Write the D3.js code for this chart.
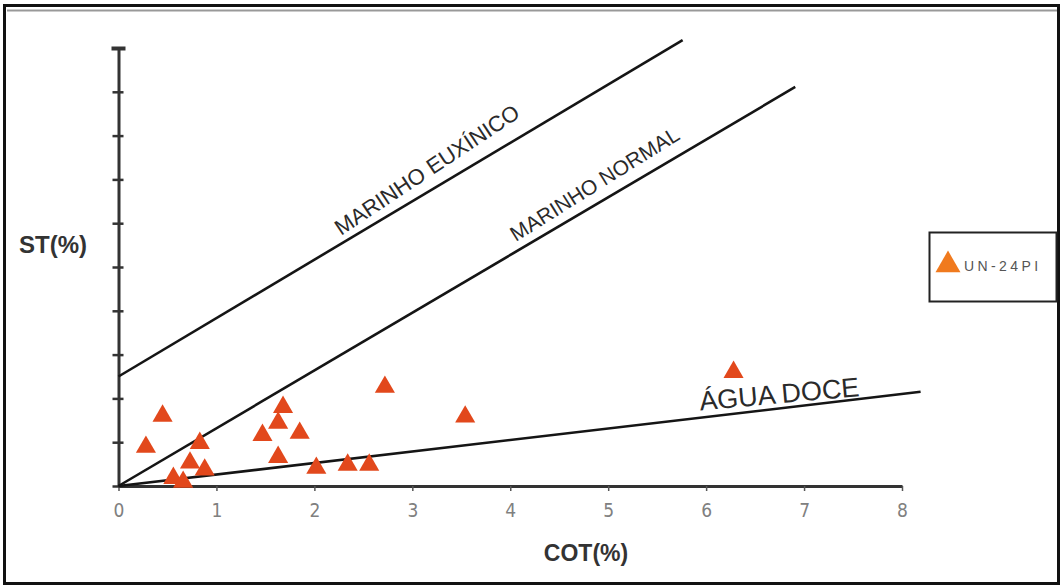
<!DOCTYPE html>
<html>
<head>
<meta charset="utf-8">
<script src="https://cdn.jsdelivr.net/npm/d3@7"></script>
<style>
  body { margin: 0; background: #fff; }
  svg { display: block; font-family: "Liberation Sans", Arial, sans-serif; }
</style>
</head>
<body>
<div id="chart"></div>
<script>
// sample points, COT(%) vs ST(%)
var cot = [0.45, 0.28, 0.83, 0.73, 0.88, 0.56, 0.66, 1.68, 1.63, 1.47, 1.85, 1.63, 2.02, 2.34, 2.56, 2.72, 3.54, 6.28];
var st  = [1.60, 0.89, 0.98, 0.53, 0.37, 0.18, 0.09, 1.80, 1.44, 1.16, 1.21, 0.66, 0.41, 0.48, 0.48, 2.26, 1.58, 2.60];

// environment boundary lines (start / end in data units)
var lineNames = ["MARINHO EUXÍNICO", "MARINHO NORMAL", "ÁGUA DOCE"];
var lineX0 = [0, 0, 0];
var lineY0 = [2.5, 0, 0];
var lineX1 = [5.76, 6.91, 8.19];
var lineY1 = [10.18, 9.11, 2.15];
var labelAt = [3.26, 4.96, 6.76];   // x position of the label along each line

var xTicks = [0, 1, 2, 3, 4, 5, 6, 7, 8];
var yTicks = [0, 1, 2, 3, 4, 5, 6, 7, 8, 9, 10];
var seriesName = "UN-24PI";

var W = 1063, H = 587;

var svg = d3.select("#chart").append("svg")
    .attr("width", W)
    .attr("height", H);

// picture frame
svg.append("rect")
    .attr("x", 4.5).attr("y", 5.5)
    .attr("width", 1054).attr("height", 578)
    .attr("fill", "none")
    .attr("stroke", "#111")
    .attr("stroke-width", 3);
svg.append("line")
    .attr("x1", 7).attr("x2", 1057)
    .attr("y1", 10.5).attr("y2", 10.5)
    .attr("stroke", "#999")
    .attr("stroke-width", 2);

var x = d3.scaleLinear().domain([0, 8]).range([118.5, 902]);
var y = d3.scaleLinear().domain([0, 10]).range([486, 48]);

// x axis
var xAxis = d3.axisBottom(x)
    .tickValues(xTicks)
    .tickSizeInner(5)
    .tickSizeOuter(0)
    .tickPadding(13);

var gx = svg.append("g")
    .attr("transform", "translate(0," + y(0) + ")")
    .call(xAxis);
gx.select(".domain").attr("stroke", "#333").attr("stroke-width", 3);
gx.selectAll(".tick line").attr("stroke", "#555").attr("stroke-width", 1.5);
gx.selectAll(".tick text")
    .attr("fill", "#808080")
    .style("font-family", "'Liberation Sans Narrow', 'DejaVu Sans Condensed', sans-serif")
    .style("font-size", "19px");

// y axis, no labels
var yAxis = d3.axisLeft(y)
    .tickValues(yTicks)
    .tickFormat("")
    .tickSizeOuter(0);

var gy = svg.append("g")
    .attr("transform", "translate(" + x(0) + ",0)")
    .call(yAxis);
gy.select(".domain").attr("stroke", "#333").attr("stroke-width", 3);
gy.selectAll(".tick line")
    .attr("x1", -6).attr("x2", 5)
    .attr("stroke", "#333")
    .attr("stroke-width", 2.5);
gy.selectAll(".tick").filter(function(d) { return d === 10; }).select("line")
    .attr("x1", -7).attr("x2", 7).attr("stroke-width", 4);

// boundary lines
var envs = lineNames.map(function(n, i) {
    return { name: n, x0: lineX0[i], y0: lineY0[i], x1: lineX1[i], y1: lineY1[i], lx: labelAt[i] };
});

svg.selectAll(".env")
    .data(envs)
    .enter().append("line")
    .attr("class", "env")
    .attr("x1", function(d) { return x(d.x0); })
    .attr("y1", function(d) { return y(d.y0); })
    .attr("x2", function(d) { return x(d.x1); })
    .attr("y2", function(d) { return y(d.y1); })
    .attr("stroke", "#151515")
    .attr("stroke-width", 2.6);

var labelSize = [22, 21, 27];
var labelDy = [-12, -11, -5];
var labelExtra = [-2.8, -1.5, 1.5];

svg.selectAll(".envlabel")
    .data(envs)
    .enter().append("text")
    .attr("class", "envlabel")
    .attr("transform", function(d, i) {
        var t = (d.lx - d.x0) / (d.x1 - d.x0);
        var ly = d.y0 + t * (d.y1 - d.y0);
        var ang = Math.atan2(y(d.y1) - y(d.y0), x(d.x1) - x(d.x0)) * 180 / Math.PI;
        return "translate(" + x(d.lx) + "," + y(ly) + ") rotate(" + (ang + labelExtra[i]) + ")";
    })
    .attr("dy", function(d, i) { return labelDy[i]; })
    .attr("text-anchor", "middle")
    .attr("fill", "#2a2a2a")
    .style("font-size", function(d, i) { return labelSize[i] + "px"; })
    .text(function(d) { return d.name; });

// points
var tri = d3.symbol().type(d3.symbolTriangle).size(175);
svg.selectAll(".pt")
    .data(cot.map(function(c, i) { return { cot: c, st: st[i] }; }))
    .enter().append("path")
    .attr("class", "pt")
    .attr("transform", function(d) { return "translate(" + x(d.cot) + "," + y(d.st) + ")"; })
    .attr("d", tri)
    .attr("fill", "#e2481c");

// axis titles
svg.append("text")
    .attr("x", 53).attr("y", 253)
    .attr("text-anchor", "middle")
    .attr("fill", "#333")
    .style("font-size", "24px")
    .style("font-weight", "bold")
    .text("ST(%)");

svg.append("text")
    .attr("x", 586).attr("y", 561)
    .attr("text-anchor", "middle")
    .attr("fill", "#333")
    .style("font-size", "23px")
    .style("font-weight", "bold")
    .text("COT(%)");

// legend
var lg = svg.append("g");
lg.append("rect")
    .attr("x", 929.5).attr("y", 232.5)
    .attr("width", 127).attr("height", 69)
    .attr("fill", "#fff")
    .attr("stroke", "#222")
    .attr("stroke-width", 2);
lg.append("path")
    .attr("transform", "translate(948,265)")
    .attr("d", d3.symbol().type(d3.symbolTriangle).size(270))
    .attr("fill", "#f07a1e");
lg.append("text")
    .attr("x", 964).attr("y", 271)
    .attr("fill", "#555")
    .style("font-size", "14px")
    .style("letter-spacing", "3.4px")
    .text(seriesName);
</script>
</body>
</html>
